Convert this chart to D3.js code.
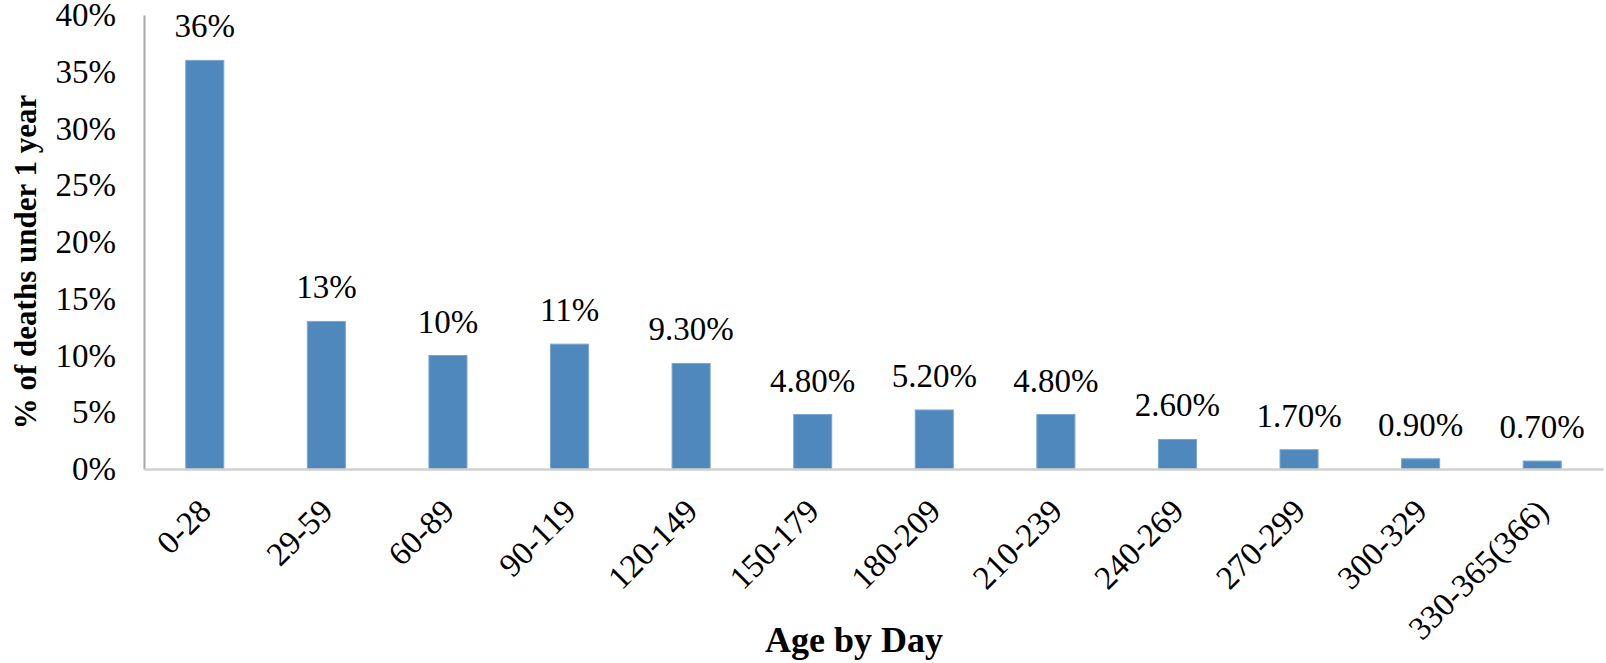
<!DOCTYPE html>
<html>
<head>
<meta charset="utf-8">
<script src="https://cdn.jsdelivr.net/npm/d3@7"></script>
<style>
  html, body { margin: 0; padding: 0; background: #fff; }
  svg { display: block; }
</style>
</head>
<body>
<svg id="chart" width="1606" height="663"></svg>
<script>
const categories = ["0-28","29-59","60-89","90-119","120-149","150-179","180-209","210-239","240-269","270-299","300-329","330-365(366)"];
const values = [36, 13, 10, 11, 9.3, 4.8, 5.2, 4.8, 2.6, 1.7, 0.9, 0.7];
const valueLabels = ["36%","13%","10%","11%","9.30%","4.80%","5.20%","4.80%","2.60%","1.70%","0.90%","0.70%"];
const yTicks = [0, 5, 10, 15, 20, 25, 30, 35, 40];
const yTitle = "% of deaths under 1 year";
const xTitle = "Age by Day";

(function () {
const FONT = '"Liberation Serif", "Times New Roman", Tinos, serif';
const svg = d3.select("#chart");
const pLeft = 144, pRight = 1603, pTop = 15, pBottom = 469;

const x = d3.scaleBand().domain(categories).range([pLeft, pRight])
  .paddingInner(0.687).paddingOuter(0.3435);
const y = d3.scaleLinear().domain([0, 40]).range([pBottom, pTop]);

const yAxis = svg.append("g").attr("transform", `translate(${pLeft},0)`)
  .call(d3.axisLeft(y).tickValues(yTicks).tickFormat(d => d + "%").tickSize(0).tickPadding(28));
yAxis.attr("font-family", null).attr("font-size", null);
yAxis.select(".domain").attr("stroke", "#a6a6a6").attr("stroke-width", 2);
yAxis.selectAll("text").attr("font-size", 33).attr("fill", "#000")
  .style("font-family", FONT);

svg.append("g").selectAll("rect").data(values).join("rect")
  .attr("x", (d, i) => x(categories[i]))
  .attr("y", d => y(d))
  .attr("width", x.bandwidth())
  .attr("height", d => y(0) - y(d))
  .attr("fill", "#4f88bd")
  .attr("stroke", "#7aa5d2")
  .attr("stroke-width", 1);

const xAxis = svg.append("g").attr("transform", `translate(0,${pBottom})`)
  .call(d3.axisBottom(x).tickSize(0).tickSizeOuter(0).tickPadding(0));
xAxis.attr("font-family", null).attr("font-size", null);
xAxis.select(".domain").attr("stroke", "#d0d0d0").attr("stroke-width", 2.5);
xAxis.selectAll("text")
  .attr("font-size", 33).attr("fill", "#000")
  .style("font-family", FONT)
  .attr("text-anchor", "end")
  .attr("y", 0).attr("dy", "0.35em")
  .attr("transform", "translate(0,36) rotate(-45)");

svg.append("g").selectAll("text").data(values).join("text")
  .attr("x", (d, i) => x(categories[i]) + x.bandwidth() / 2)
  .attr("y", d => y(d) - 23)
  .attr("text-anchor", "middle")
  .attr("font-size", 33)
  .style("font-family", FONT)
  .attr("fill", "#000")
  .text((d, i) => valueLabels[i]);

svg.append("text")
  .attr("transform", `translate(36,262) rotate(-90)`)
  .attr("text-anchor", "middle")
  .attr("font-weight", "bold")
  .attr("font-size", 31)
  .style("font-family", FONT)
  .text(yTitle);

svg.append("text")
  .attr("x", 854).attr("y", 652)
  .attr("text-anchor", "middle")
  .attr("font-weight", "bold")
  .attr("font-size", 36)
  .style("font-family", FONT)
  .text(xTitle);
})();
</script>
</body>
</html>
